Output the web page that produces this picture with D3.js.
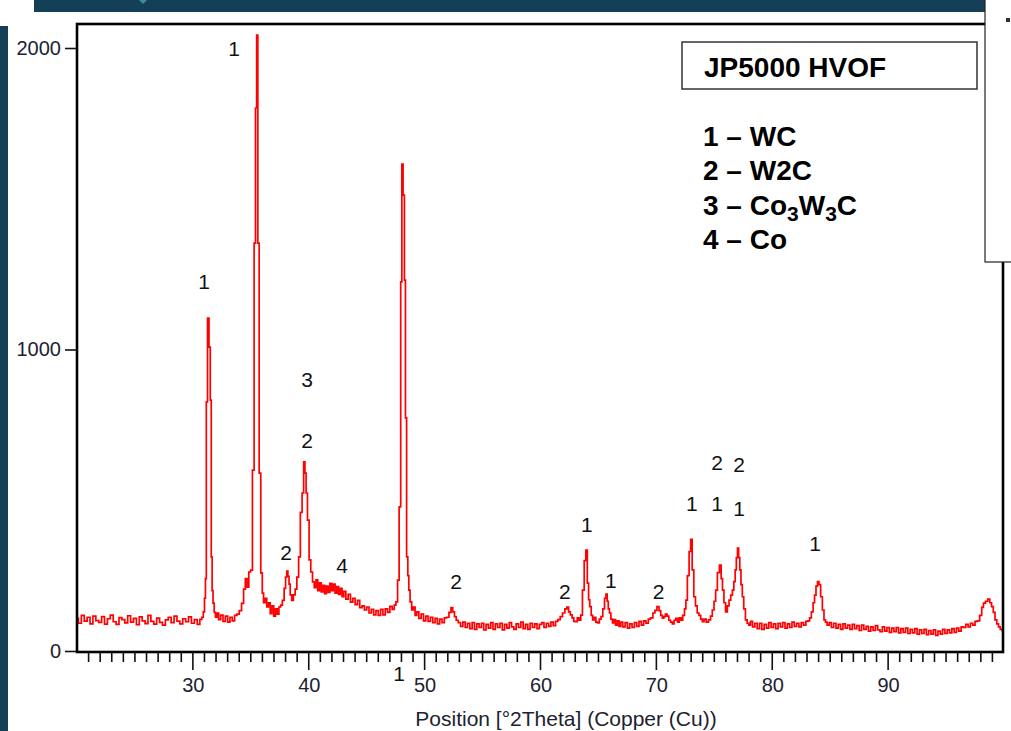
<!DOCTYPE html>
<html>
<head>
<meta charset="utf-8">
<script src="https://cdn.jsdelivr.net/npm/d3@7"></script>
<style>
  html, body { margin: 0; padding: 0; background: #ffffff; }
  svg { display: block; }
  text { font-family: "Liberation Sans", Arial, sans-serif; }
</style>
</head>
<body>
<svg id="chart" width="1011" height="731"></svg>
<script>
// XRD scan, 2θ (degrees) vs counts, split into three ranges
const scanLow = [
  [20.00,108],[20.25,92],[20.50,118],[20.75,99],[21.00,112],[21.25,90],[21.50,116],[21.75,101],
  [22.00,95],[22.25,114],[22.50,89],[22.75,107],[23.00,119],[23.25,97],[23.50,88],[23.75,111],
  [24.00,104],[24.25,93],[24.50,117],[24.75,96],[25.00,108],[25.25,87],[25.50,113],[25.75,100],
  [26.00,91],[26.25,118],[26.50,98],[26.75,89],[27.00,109],[27.25,95],[27.50,86],[27.75,103],
  [28.00,112],[28.25,94],[28.50,116],[28.75,99],[29.00,90],[29.25,107],[29.50,97],[29.75,113],
  [30.00,92],[30.25,104],[30.50,88],[30.70,105],[30.85,112],[30.95,130],[31.05,175],[31.12,240],
  [31.20,826],[31.33,1104],[31.45,1008],[31.55,832],[31.62,312],[31.70,200],[31.78,159],[31.90,128],
  [32.00,112],[32.15,126],[32.30,104],[32.50,119],[32.70,98],[32.90,116],[33.10,96],[33.30,112],
  [33.50,100],[33.70,118],[33.90,122],[34.10,134],[34.30,158],[34.45,205],[34.60,240],[34.75,212],
  [34.90,262],[35.07,268],[35.21,600],[35.36,1353],[35.45,1801],[35.56,2043],[35.65,1353],[35.79,590],
  [35.93,259],[36.05,192]
];
const scanMid = [
  [36.15,160],[36.30,175],[36.45,146],[36.60,160],[36.75,124],[36.90,150],[37.05,116],[37.20,140],
  [37.35,122],[37.50,146],[37.65,152],[37.80,168],[37.95,208],[38.05,245],[38.15,265],[38.25,248],
  [38.35,222],[38.45,186],[38.60,168],[38.75,186],[38.90,205],[39.05,245],[39.20,312],[39.35,460],
  [39.50,524],[39.62,627],[39.72,590],[39.82,524],[39.96,434],[40.10,302],[40.25,262],[40.40,229],
  [40.55,210],[40.70,236],[40.85,200],[41.00,226],[41.15,196],[41.30,218],[41.45,190],[41.60,215],
  [41.75,194],[41.90,224],[42.05,200],[42.20,222],[42.35,192],[42.50,214],[42.65,188],[42.80,208],
  [42.95,180],[43.10,198],[43.30,172],[43.50,188],[43.70,162],[43.90,175],[44.10,154],[44.30,168],
  [44.50,144],[44.70,150],[44.90,136],[45.10,146],[45.30,126],[45.50,138],[45.70,120],[45.90,134],
  [46.10,118],[46.30,138],[46.50,120],[46.70,140],[46.90,128],[47.10,148],[47.30,138],[47.45,152],
  [47.60,163],[47.73,235],[47.87,478],[48.00,1224],[48.07,1615],[48.21,1512],[48.30,1230],[48.39,773],
  [48.50,312],[48.60,250],[48.67,202],[48.82,163],[48.95,136],[49.10,146],[49.25,118],[49.40,130],
  [49.60,108],[49.80,122],[50.00,100],[50.20,116],[50.40,98],[50.60,112],[50.80,94],[51.00,108],
  [51.20,90],[51.40,106],[51.60,94],[51.80,110],[52.00,112],[52.20,128],[52.35,144],[52.50,130],
  [52.65,114],[52.80,102],[53.00,94],[53.20,82],[53.40,96],[53.60,78],[53.80,92],[54.00,74],
  [54.20,94],[54.40,72],[54.60,90],[54.80,78],[55.00,92],[55.20,70],[55.40,88],[55.60,76],
  [55.80,94],[56.00,72],[56.20,90],[56.40,78],[56.60,92],[56.80,70],[57.00,88],[57.20,76],
  [57.40,94],[57.60,80],[57.80,72],[58.00,90],[58.20,78],[58.40,96],[58.60,74],[58.80,88],
  [59.00,72],[59.20,92],[59.40,78],[59.60,90],[59.80,74],[60.00,88]
];
const scanHigh = [
  [60.20,94],[60.40,78],[60.60,92],[60.80,82],[61.00,96],[61.20,84],[61.40,98],[61.60,104],
  [61.80,114],[62.00,126],[62.20,140],[62.35,146],[62.50,130],[62.65,120],[62.80,110],[62.95,98],
  [63.10,97],[63.25,110],[63.40,102],[63.55,119],[63.69,202],[63.85,300],[63.98,335],[64.10,225],
  [64.20,170],[64.30,147],[64.45,118],[64.55,103],[64.70,112],[64.85,96],[65.00,93],[65.15,106],
  [65.30,114],[65.45,140],[65.60,175],[65.70,189],[65.80,165],[65.90,140],[66.00,126],[66.15,106],
  [66.27,93],[66.40,104],[66.55,86],[66.70,100],[66.85,82],[67.00,96],[67.20,80],[67.40,94],
  [67.60,76],[67.80,90],[68.00,78],[68.20,94],[68.40,82],[68.60,98],[68.80,86],[69.00,100],
  [69.20,92],[69.40,106],[69.60,110],[69.80,126],[69.95,135],[70.15,147],[70.30,134],[70.45,118],
  [70.58,109],[70.70,114],[70.85,122],[71.00,116],[71.15,102],[71.30,96],[71.45,90],[71.60,102],
  [71.75,108],[71.90,96],[72.05,110],[72.20,102],[72.35,118],[72.50,140],[72.60,169],[72.75,250],
  [72.90,330],[73.02,370],[73.16,269],[73.30,180],[73.45,150],[73.60,126],[73.75,118],[73.90,106],
  [74.03,97],[74.20,106],[74.40,96],[74.60,103],[74.75,116],[74.90,136],[75.05,165],[75.18,202],
  [75.35,260],[75.53,285],[75.65,240],[75.76,202],[75.90,160],[76.05,130],[76.20,150],[76.34,169],
  [76.50,185],[76.62,202],[76.75,230],[76.85,269],[76.95,310],[77.05,341],[77.15,310],[77.25,269],
  [77.35,220],[77.48,180],[77.60,140],[77.77,103],[77.90,92],[78.05,86],[78.20,98],[78.40,80],
  [78.60,92],[78.80,74],[79.00,92],[79.20,72],[79.40,88],[79.60,76],[79.80,94],[80.00,78],
  [80.20,90],[80.40,74],[80.60,92],[80.80,80],[81.00,94],[81.20,76],[81.40,90],[81.60,78],
  [81.80,96],[82.00,82],[82.20,92],[82.40,80],[82.60,94],[82.80,86],[83.00,98],[83.15,100],
  [83.30,110],[83.45,130],[83.60,160],[83.70,185],[83.85,215],[83.96,230],[84.10,220],[84.25,180],
  [84.40,136],[84.53,103],[84.65,96],[84.82,86],[85.00,94],[85.20,78],[85.40,92],[85.60,76],
  [85.80,88],[86.00,72],[86.20,90],[86.40,76],[86.60,86],[86.80,72],[87.00,88],[87.20,74],
  [87.40,84],[87.60,68],[87.80,86],[88.00,72],[88.20,82],[88.40,66],[88.60,80],[88.80,68],
  [89.00,84],[89.20,70],[89.40,64],[89.60,80],[89.80,66],[90.00,78],[90.20,62],[90.40,76],
  [90.60,64],[90.80,78],[91.00,60],[91.20,74],[91.40,62],[91.60,76],[91.80,58],[92.00,72],
  [92.20,60],[92.40,74],[92.60,56],[92.80,70],[93.00,58],[93.20,72],[93.40,54],[93.60,68],
  [93.80,56],[94.00,70],[94.20,52],[94.40,66],[94.60,56],[94.80,72],[95.00,58],[95.20,70],
  [95.40,60],[95.60,74],[95.80,62],[96.00,76],[96.20,66],[96.40,80],[96.60,78],[96.80,88],
  [97.00,80],[97.20,92],[97.40,86],[97.60,98],[97.80,100],[98.00,118],[98.15,145],[98.30,159],
  [98.50,165],[98.70,172],[98.85,160],[99.00,147],[99.15,128],[99.30,103],[99.45,90],[99.60,80],
  [99.75,72],[99.90,68]
];

// Phase markers placed over the reflections: [2θ, counts, phase number]
const peakMarks = [
  [33.55,1998,"1"],[30.96,1224,"1"],[39.85,899,"3"],[39.85,697,"2"],[38.04,328,"2"],
  [42.87,285,"4"],[52.71,229,"2"],[47.79,-76,"1"],[62.11,199,"2"],[64.01,418,"1"],
  [66.08,235,"1"],[70.20,199,"2"],[73.07,488,"1"],[75.23,488,"1"],[77.13,474,"1"],
  [75.23,624,"2"],[77.13,620,"2"],[83.69,355,"1"]
];

const xTicks = [30, 40, 50, 60, 70, 80, 90];
const yTicks = [0, 1000, 2000];
const phases = [
  ["1 – ", [["WC", false]]],
  ["2 – ", [["W2C", false]]],
  ["3 – ", [["Co", false], ["3", true], ["W", false], ["3", true], ["C", false]]],
  ["4 – ", [["Co", false]]]
];
const sampleTitle = "JP5000 HVOF";
const xTitle = "Position [°2Theta] (Copper (Cu))";

const svg = d3.select("#chart");
const W = 1011, H = 731;
const plot = { left: 77, right: 1003, top: 24, bottom: 652 };

// page furniture: dark banner and left strip
svg.append("rect").attr("x", 0).attr("y", 0).attr("width", W).attr("height", H).attr("fill", "#ffffff");
svg.append("rect").attr("x", 0).attr("y", 0).attr("width", 986).attr("height", 12).attr("fill", "#133f57");
svg.append("rect").attr("x", 0).attr("y", 0).attr("width", 8).attr("height", H).attr("fill", "#133f57");
svg.append("rect").attr("x", 0).attr("y", 0).attr("width", 34).attr("height", 26).attr("fill", "#ffffff");
svg.append("path").attr("d", "M139,0 L147,0 L143,4 Z").attr("fill", "#3d8f95");

const x = d3.scaleLinear().domain([20, 100]).range([plot.left, 1004]);
const y = d3.scaleLinear().domain([0, 2000]).range([651, 48]);

svg.append("defs").append("clipPath").attr("id", "plotClip")
  .append("rect").attr("x", plot.left).attr("y", plot.top)
  .attr("width", plot.right - plot.left).attr("height", plot.bottom - plot.top);

// diffraction trace
const scan = scanLow.concat(scanMid, scanHigh);
const line = d3.line().x(d => x(d[0])).y(d => y(d[1])).curve(d3.curveStep);
svg.append("path").datum(scan)
  .attr("clip-path", "url(#plotClip)")
  .attr("d", line)
  .attr("fill", "none")
  .attr("stroke", "#ff0000")
  .attr("stroke-width", 1.7)
  .attr("stroke-linejoin", "miter");

// frame
svg.append("rect")
  .attr("x", plot.left).attr("y", plot.top)
  .attr("width", plot.right - plot.left).attr("height", plot.bottom - plot.top)
  .attr("fill", "none").attr("stroke", "#000").attr("stroke-width", 2.6);

// x axis: minor ticks every degree, labelled majors every 10
const xMinor = d3.range(21, 100);
svg.append("g").selectAll("line").data(xMinor).join("line")
  .attr("x1", d => x(d)).attr("x2", d => x(d))
  .attr("y1", plot.bottom).attr("y2", d => xTicks.includes(d) ? 670 : 662)
  .attr("stroke", "#111").attr("stroke-width", 1.6);
const xAxis = d3.axisBottom(x).tickValues(xTicks).tickSize(0).tickPadding(0);
const gx = svg.append("g").attr("transform", `translate(0,${plot.bottom})`).call(xAxis);
gx.select(".domain").remove();
gx.selectAll("text").attr("dy", null).attr("y", 40)
  .attr("font-size", 20).attr("fill", "#1c2230")
  .attr("font-family", "'Liberation Sans', Arial, sans-serif");

// y axis
const yAxis = d3.axisLeft(y).tickValues(yTicks).tickSize(11).tickPadding(4).tickFormat(d3.format("d"));
const gy = svg.append("g").attr("transform", `translate(${plot.left - 1},0)`).call(yAxis);
gy.select(".domain").remove();
gy.selectAll("line").attr("stroke", "#111").attr("stroke-width", 1.6);
gy.selectAll("text").attr("font-size", 20).attr("fill", "#1c2230")
  .attr("font-family", "'Liberation Sans', Arial, sans-serif");

// axis title
svg.append("text").attr("x", 566).attr("y", 726).attr("text-anchor", "middle")
  .attr("font-size", 21).attr("fill", "#1c2230").text(xTitle);

// phase numbers above reflections
svg.append("g").selectAll("text").data(peakMarks).join("text")
  .attr("x", d => x(d[0])).attr("y", d => y(d[1]) + 7.5)
  .attr("text-anchor", "middle").attr("font-size", 21).attr("fill", "#111")
  .text(d => d[2]);

// sample title box
svg.append("rect").attr("x", 682).attr("y", 42).attr("width", 295).attr("height", 47)
  .attr("fill", "#fff").attr("stroke", "#333").attr("stroke-width", 1.5);
svg.append("text").attr("x", 704).attr("y", 77).attr("font-size", 28).attr("font-weight", "bold")
  .attr("fill", "#000").text(sampleTitle);

// phase key
const key = svg.append("g");
phases.forEach((p, i) => {
  const t = key.append("text").attr("x", 703).attr("y", 146 + i * 34.3)
    .attr("font-size", 28).attr("font-weight", "bold").attr("fill", "#000");
  t.append("tspan").text(p[0]);
  let shift = 0;
  p[1].forEach(([s, sub]) => {
    const target = sub ? 6 : 0;
    t.append("tspan").text(s)
      .attr("font-size", sub ? 21 : 28)
      .attr("dy", target - shift);
    shift = target;
  });
});

// overlay panel at the right edge
svg.append("rect").attr("x", 985).attr("y", -2).attr("width", 30).attr("height", 264)
  .attr("fill", "#fff").attr("stroke", "#222").attr("stroke-width", 1.2);
svg.append("rect").attr("x", 1006).attr("y", 18).attr("width", 4).attr("height", 4).attr("fill", "#333");
</script>
</body>
</html>
